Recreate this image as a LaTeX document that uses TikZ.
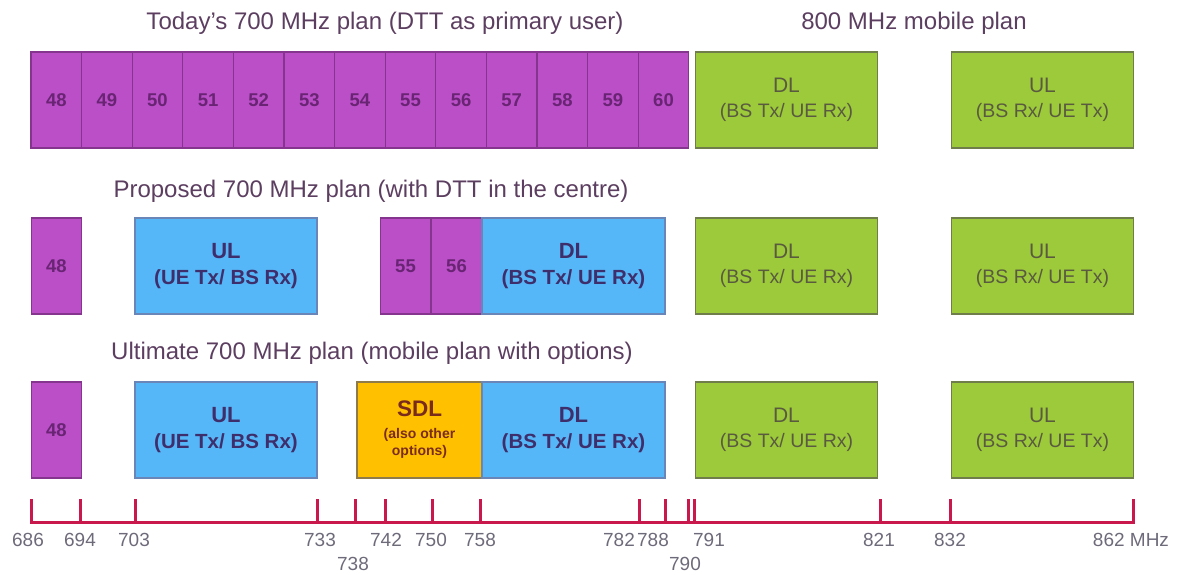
\documentclass[tikz,border=0pt]{standalone}
\usepackage{fontspec}
\setmainfont{Liberation Sans}
\usepackage{tikz}
\usetikzlibrary{positioning}
\definecolor{dttfill}{HTML}{BA4FC8}
\definecolor{dttline}{HTML}{86358F}
\definecolor{dtttext}{HTML}{6A2474}
\definecolor{mobfill}{HTML}{9CCA3A}
\definecolor{mobline}{HTML}{6E7D4A}
\definecolor{mobtext}{HTML}{5A5A40}
\definecolor{imtfill}{HTML}{56B7F8}
\definecolor{imtline}{HTML}{6A86B8}
\definecolor{imttext}{HTML}{3E2F6C}
\definecolor{sdlfill}{HTML}{FFC000}
\definecolor{sdlline}{HTML}{8F7A4A}
\definecolor{sdltext}{HTML}{7A2C1C}
\definecolor{headtext}{HTML}{5C3E60}
\definecolor{axisred}{HTML}{C8184C}
\definecolor{freqtext}{HTML}{6E6A7A}
\newcommand{\pxsize}[1]{\fontsize{#1}{#1}\selectfont}
\tikzstyle{band} = [rectangle, draw, line width=1.3pt, inner sep=0pt,
    minimum height=96pt, align=center]
\tikzstyle{dtt} = [band, fill=dttfill, draw=dttline, text=dtttext,
    font=\bfseries\pxsize{18.5}, minimum width=50.6pt]
\tikzstyle{mob} = [band, fill=mobfill, draw=mobline, text=mobtext,
    font=\pxsize{21}, minimum width=182pt]
\tikzstyle{imt} = [band, fill=imtfill, draw=imtline, text=imttext,
    font=\bfseries\pxsize{22}, minimum width=182pt]
\tikzstyle{sdl} = [band, fill=sdlfill, draw=sdlline, text=sdltext,
    font=\bfseries\pxsize{22.5}, minimum width=125pt]
\tikzstyle{head} = [text=headtext, font=\pxsize{24}]
\tikzstyle{tick} = [draw=axisred, line width=3pt]
\tikzstyle{freq} = [text=freqtext, font=\pxsize{19}, inner sep=0pt]
\newcommand{\mobsub}[1]{\\[4pt]{\pxsize{19.5}#1}}
\newcommand{\imtsub}[1]{\\[4pt]{\pxsize{20.5}#1}}

\begin{document}
\begin{tikzpicture}[x=1pt, y=-1pt]
  \useasboundingbox (0,0) rectangle (1181,575);

  \node [head] (h1) at (385,23) {Today’s 700 MHz plan (DTT as primary user)};
  \node [head] (h2) at (914,23) {800 MHz mobile plan};
  \foreach \ch [count=\i from 0] in {48,...,60}
    \node [dtt] (a\ch) at ({56.3+50.6*\i},100) {\ch};
  \node [mob] (adl) at (786.5,100) {DL\mobsub{(BS Tx/ UE Rx)}};
  \node [mob] (aul) at (1042.5,100) {UL\mobsub{(BS Rx/ UE Tx)}};

  \node [head] (h3) at (371,191) {Proposed 700 MHz plan (with DTT in the centre)};
  \node [dtt] (b48) at (56.5,266) {48};
  \node [imt] (bul) at (226,266) {UL\imtsub{(UE Tx/ BS Rx)}};
  \node [dtt] (b55) at (405.5,266) {55};
  \node [dtt] (b56) at (456.5,266) {56};
  \node [imt, minimum width=183pt] (bdl) at (573.5,266) {DL\imtsub{(BS Tx/ UE Rx)}};
  \node [mob] (bmdl) at (786.5,266) {DL\mobsub{(BS Tx/ UE Rx)}};
  \node [mob] (bmul) at (1042.5,266) {UL\mobsub{(BS Rx/ UE Tx)}};

  \node [head] (h4) at (372,353) {Ultimate 700 MHz plan (mobile plan with options)};
  \node [dtt] (c48) at (56.5,430) {48};
  \node [imt] (cul) at (226,430) {UL\imtsub{(UE Tx/ BS Rx)}};
  \node [sdl] (csdl) at (419.5,430)
    {SDL\\[-1pt]{\pxsize{14}(also other}\\[-5pt]{\pxsize{14}options)}};
  \node [imt, minimum width=183pt] (cdl) at (573.5,430) {DL\imtsub{(BS Tx/ UE Rx)}};
  \node [mob] (cmdl) at (786.5,430) {DL\mobsub{(BS Tx/ UE Rx)}};
  \node [mob] (cmul) at (1042.5,430) {UL\mobsub{(BS Rx/ UE Tx)}};

  \foreach \f/\x in {686/31,694/80,703/135,733/317,738/355,742/385,750/432,
      758/480,782/639,788/665,790/688,791/694,821/880,832/950,862/1133}
    \coordinate (f\f) at (\x,522);
  \draw [tick, line cap=rect] (f686) -- (f862);
  \foreach \f in {686,694,703,733,738,742,750,758,782,788,790,791,821,832,862}
    \draw [tick] (f\f) -- ++(0,-23);

  \foreach \f/\x/\y in {686/28/540,694/80/540,703/134/540,733/320/540,
      738/353/564,742/386/540,750/431/540,758/480/540,782/619/540,
      788/653/540,790/685/564,791/709/540,821/879/540,832/950/540}
    \node [freq] (l\f) at (\x,\y) {\f};
  \node [freq] (l862) at (1131,540) {862 MHz};
\end{tikzpicture}
\end{document}
